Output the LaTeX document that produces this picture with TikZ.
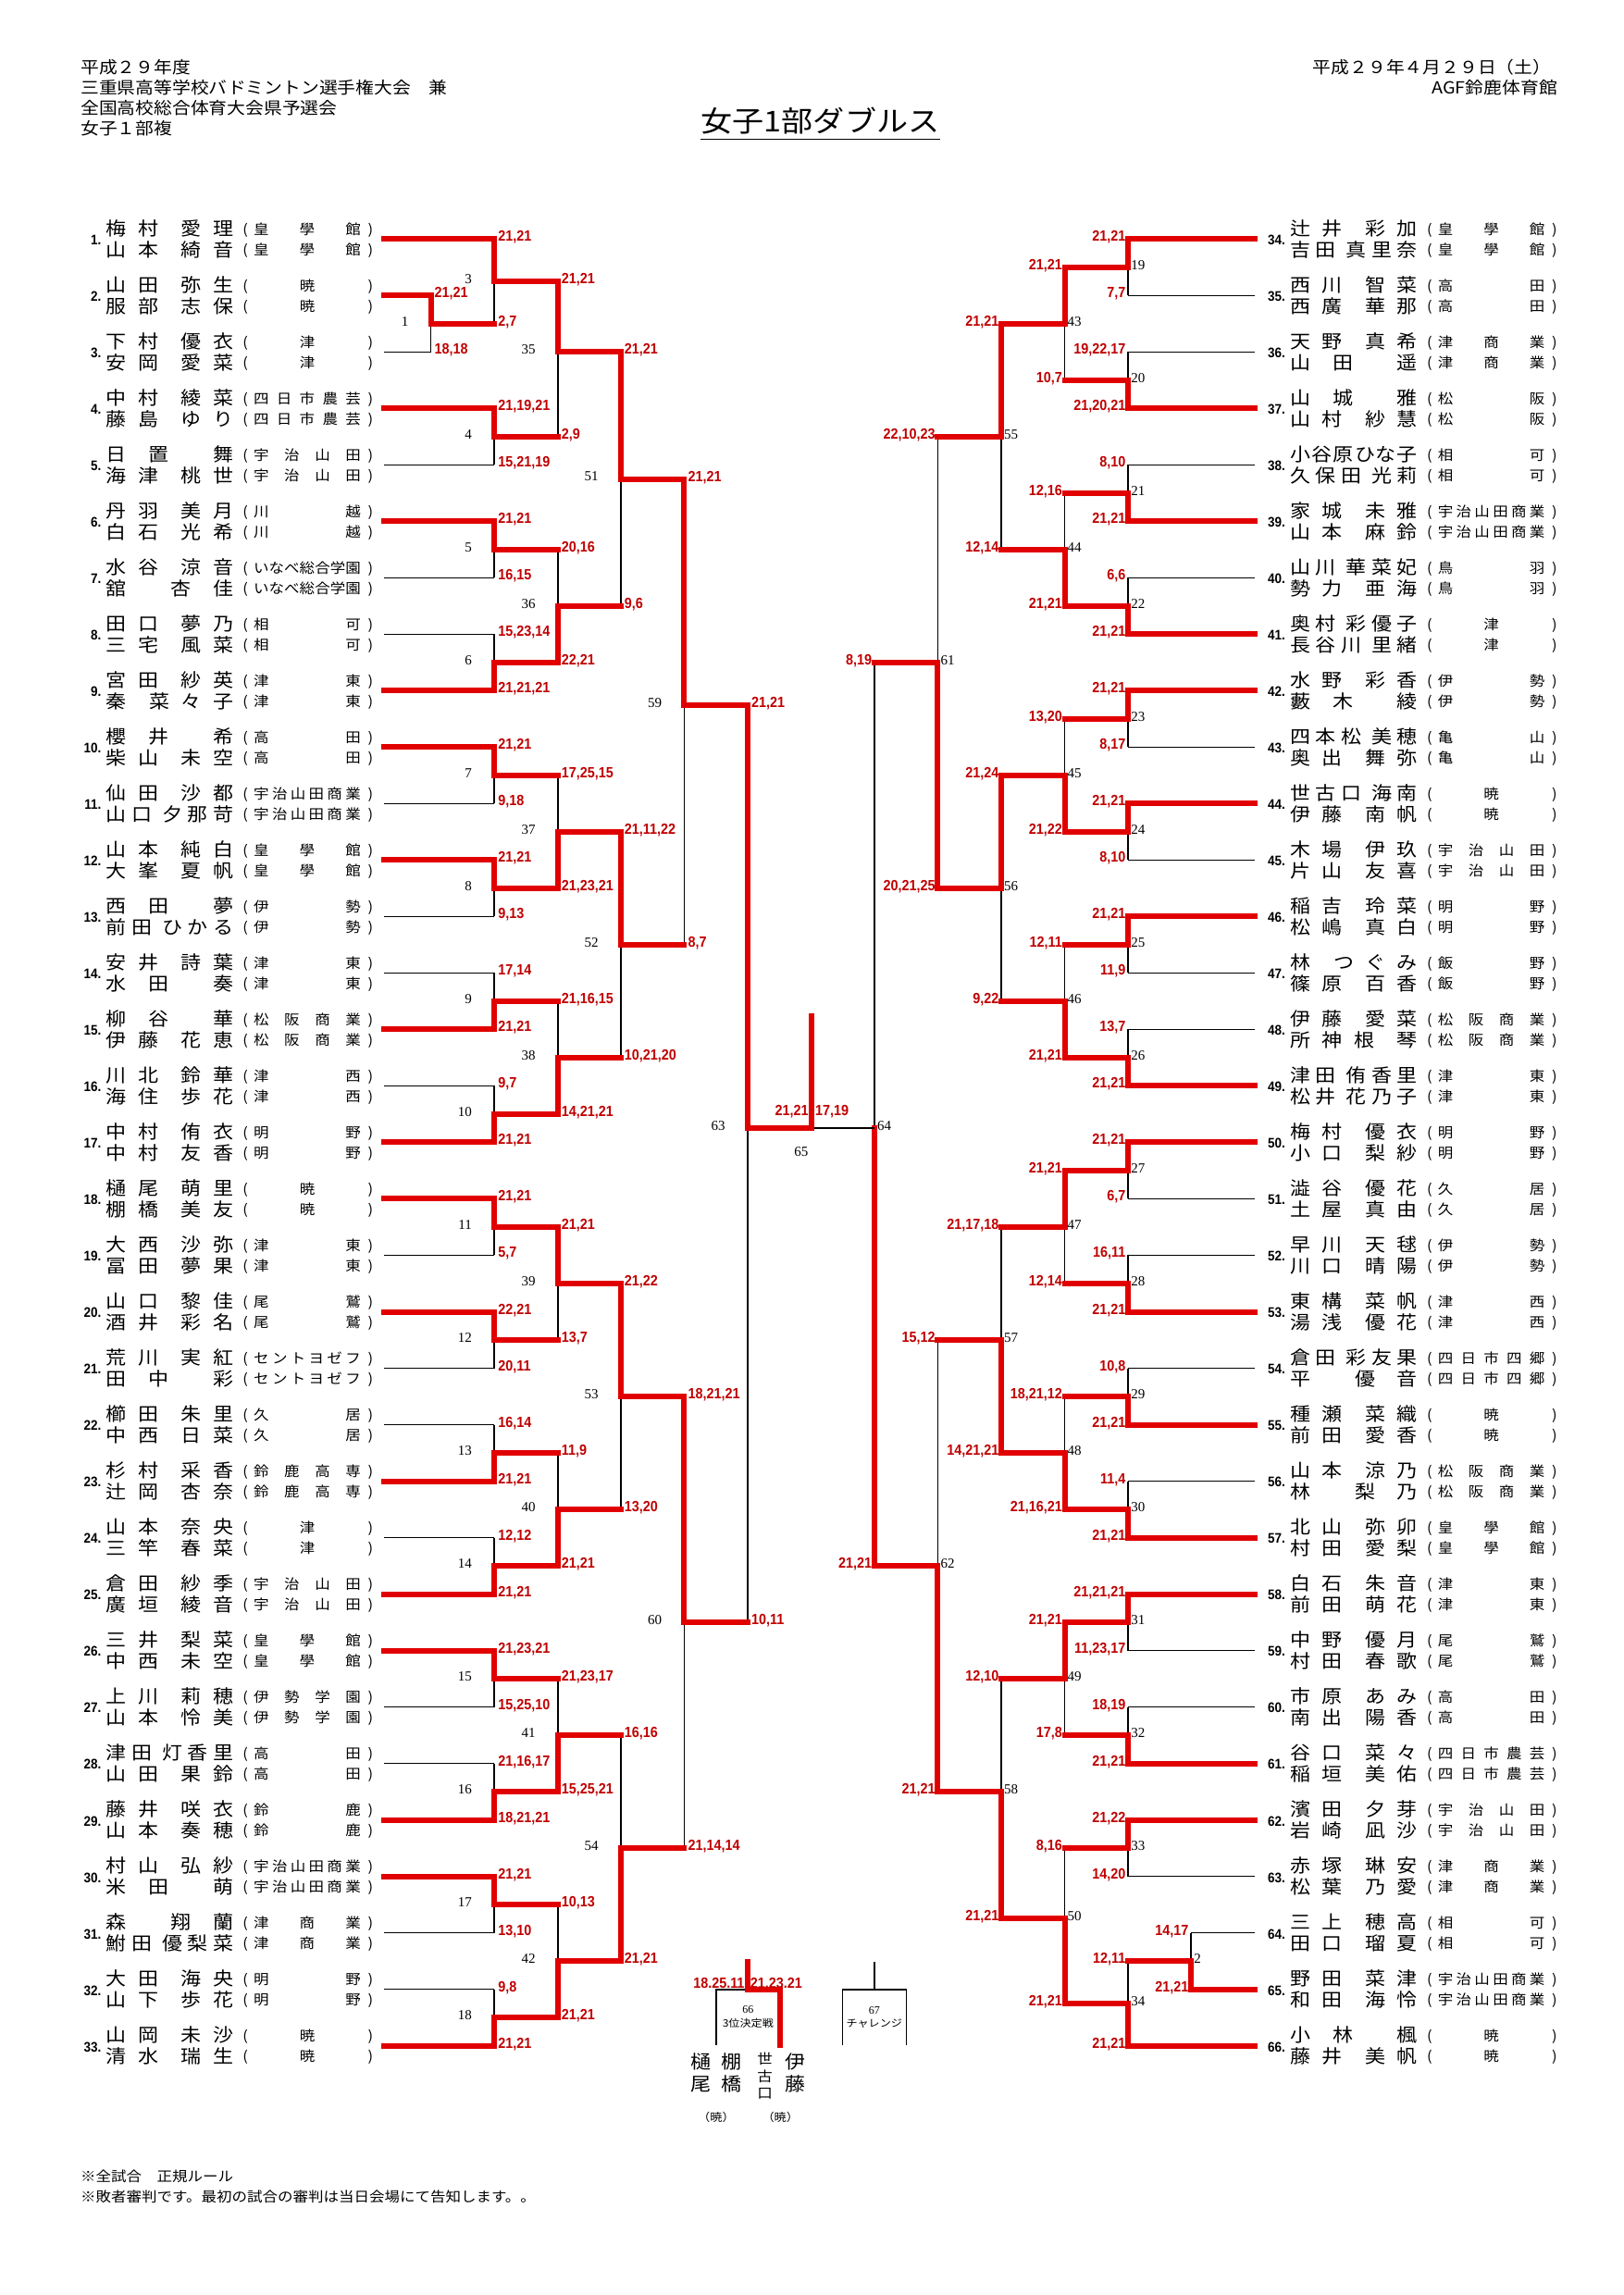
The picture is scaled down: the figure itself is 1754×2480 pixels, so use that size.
\documentclass[tikz,border=0pt]{standalone}
\usepackage{fontspec}
\usepackage{graphicx}
\newfontfamily\jp[FakeStretch=1.1]{Noto Sans CJK JP}
\newfontfamily\scfont[FakeStretch=0.9]{Liberation Sans}
\newfontfamily\mnfont{Liberation Serif}

\definecolor{linered}{RGB}{225,0,0}
\definecolor{scorered}{RGB}{192,0,0}

\newcommand\namefont{\jp\fontsize{20}{24}\selectfont}
\newcommand\schfont{\jp\fontsize{15}{18}\selectfont}
\newcommand\hdfont{\jp\fontsize{18}{22}\selectfont}
\newcommand\scorefont{\scfont\bfseries\fontsize{16}{19}\selectfont}
\newcommand\entfont{\scfont\bfseries\fontsize{15}{18}\selectfont}
\newcommand\numfont{\mnfont\fontsize{15}{18}\selectfont}

\makeatletter
\newcommand\spreadchars[1]{\let\sc@sep\relax\@tfor\sc@c:=#1\do{\sc@sep\sc@c\let\sc@sep\hfill}}
\makeatother
\newcommand\nm[2]{\makebox[137.7pt][s]{\spreadchars{#1}\hfill\hfill\spreadchars{#2}}}
\newcommand\sch[1]{\makebox[18pt]{(}\makebox[115.6pt][s]{\hskip 0pt plus 1fil\spreadchars{#1}\hskip 0pt plus 1fil}\makebox[21.1pt]{)}}
\newcommand\rowy[1]{258.3+15.2525*(#1)}

% one pair: id, shift, line end, first id of the side, names, school
\newcommand\ent[9]{%
  \coordinate (e#1) at (#3,{258.3+61.01*(#1-#4)});
  \node[enum] (num#1) at ({#2+109.5},{264.7+61.01*(#1-#4)}) {#1.};
  \node[pname] (pa#1) at ({#2+114.4},{254.2+61.01*(#1-#4)}) {\nm{#5}{#6}};
  \node[pname] (pb#1) at ({#2+114.4},{277.6+61.01*(#1-#4)}) {\nm{#7}{#8}};
  \node[pschool] (sa#1) at ({#2+256},{253.5+61.01*(#1-#4)}) {\sch{#9}};
  \node[pschool] (sb#1) at ({#2+256},{275.2+61.01*(#1-#4)}) {\sch{#9}};}
\newcommand\entL[6]{\ent{#1}{0}{414.6}{1}{#2}{#3}{#4}{#5}{#6}}
\newcommand\entR[6]{\ent{#1}{1279.6}{1355.7}{34}{#2}{#3}{#4}{#5}{#6}}

% one match: side, number, winner, loser, loser line, scores
\newcommand\bout[7]{%
  \draw[lo] (#4 -| m#2) -- (m#2);
  \draw[#5] (#4) -- (#4 -| m#2);
  \draw[wn] (#3) -- (#3 -| m#2) -- (m#2);
  \node[sc#1] (sw#2) at (#3 -| m#2) {#6};
  \node[sc#1] (sl#2) at (#4 -| m#2) {#7};
  \node[no#1] (lab#2) at (m#2) {#2};}

\begin{document}
\begin{tikzpicture}[x=1pt,y=-1pt,
  lo/.style={black,line width=1.6pt},
  wn/.style={linered,line width=6pt,line cap=rect},
  scL/.style={anchor=base west,xshift=4pt,yshift=-2.5pt,text=scorered,font=\scorefont},
  scR/.style={anchor=base east,xshift=-2.5pt,yshift=-2.5pt,text=scorered,font=\scorefont},
  noL/.style={anchor=east,xshift=-24pt,yshift=2.5pt,font=\numfont},
  noR/.style={anchor=west,xshift=3pt,yshift=2.5pt,font=\numfont},
  enum/.style={anchor=base east,font=\entfont},
  pname/.style={anchor=base west,font=\namefont},
  pschool/.style={anchor=base west,font=\schfont},
  hd/.style={anchor=base west,font=\hdfont},
  tp/.style={align=center,font=\jp\fontsize{20}{23.4}\selectfont},
  small/.style={font=\jp\fontsize{11}{13}\selectfont}]
\tikzstyle{every node}+=[inner sep=0pt]
\fill[white] (0,0) rectangle (1754,2480);
\useasboundingbox (0,0) rectangle (1754,2480);

\node[hd] (hd1) at (87,79.6) {平成２９年度};
\node[hd] (hd2) at (87,101.7) {三重県高等学校バドミントン選手権大会　兼};
\node[hd] (hd3) at (87,123.8) {全国高校総合体育大会県予選会};
\node[hd] (hd4) at (87,146) {女子１部複};
\node[hd,anchor=base east] (date) at (1676.5,79.6) {平成２９年４月２９日（土）};
\node[hd,anchor=base east] (hall) at (1683,101.7) {AGF鈴鹿体育館};
\node[anchor=base,font=\jp\fontsize{31}{36}\selectfont] (title) at (886.5,142.8) {女子1部ダブルス};
\draw[line width=1.5pt] ([yshift=-7.7pt]title.base west) -- ([yshift=-7.7pt]title.base east);

\entL{1}{梅村}{愛理}{山本}{綺音}{皇學館}
\entL{2}{山田}{弥生}{服部}{志保}{暁}
\entL{3}{下村}{優衣}{安岡}{愛菜}{津}
\entL{4}{中村}{綾菜}{藤島}{ゆり}{四日市農芸}
\entL{5}{日置}{舞}{海津}{桃世}{宇治山田}
\entL{6}{丹羽}{美月}{白石}{光希}{川越}
\entL{7}{水谷}{涼音}{舘}{杏佳}{いなべ総合学園}
\entL{8}{田口}{夢乃}{三宅}{風菜}{相可}
\entL{9}{宮田}{紗英}{秦}{菜々子}{津東}
\entL{10}{櫻井}{希}{柴山}{未空}{高田}
\entL{11}{仙田}{沙都}{山口}{夕那苛}{宇治山田商業}
\entL{12}{山本}{純白}{大峯}{夏帆}{皇學館}
\entL{13}{西田}{夢}{前田}{ひかる}{伊勢}
\entL{14}{安井}{詩葉}{水田}{奏}{津東}
\entL{15}{柳谷}{華}{伊藤}{花恵}{松阪商業}
\entL{16}{川北}{鈴華}{海住}{歩花}{津西}
\entL{17}{中村}{侑衣}{中村}{友香}{明野}
\entL{18}{樋尾}{萌里}{棚橋}{美友}{暁}
\entL{19}{大西}{沙弥}{冨田}{夢果}{津東}
\entL{20}{山口}{黎佳}{酒井}{彩名}{尾鷲}
\entL{21}{荒川}{実紅}{田中}{彩}{セントヨゼフ}
\entL{22}{櫛田}{朱里}{中西}{日菜}{久居}
\entL{23}{杉村}{采香}{辻岡}{杏奈}{鈴鹿高専}
\entL{24}{山本}{奈央}{三竿}{春菜}{津}
\entL{25}{倉田}{紗季}{廣垣}{綾音}{宇治山田}
\entL{26}{三井}{梨菜}{中西}{未空}{皇學館}
\entL{27}{上川}{莉穂}{山本}{怜美}{伊勢学園}
\entL{28}{津田}{灯香里}{山田}{果鈴}{高田}
\entL{29}{藤井}{咲衣}{山本}{奏穂}{鈴鹿}
\entL{30}{村山}{弘紗}{米田}{萌}{宇治山田商業}
\entL{31}{森}{翔蘭}{鮒田}{優梨菜}{津商業}
\entL{32}{大田}{海央}{山下}{歩花}{明野}
\entL{33}{山岡}{未沙}{清水}{瑞生}{暁}

\entR{34}{辻井}{彩加}{吉田}{真里奈}{皇學館}
\entR{35}{西川}{智菜}{西廣}{華那}{高田}
\entR{36}{天野}{真希}{山田}{遥}{津商業}
\entR{37}{山城}{雅}{山村}{紗慧}{松阪}
\entR{38}{小谷原}{ひな子}{久保田}{光莉}{相可}
\entR{39}{家城}{未雅}{山本}{麻鈴}{宇治山田商業}
\entR{40}{山川}{華菜妃}{勢力}{亜海}{鳥羽}
\entR{41}{奥村}{彩優子}{長谷川}{里緒}{津}
\entR{42}{水野}{彩香}{藪木}{綾}{伊勢}
\entR{43}{四本松}{美穂}{奥出}{舞弥}{亀山}
\entR{44}{世古口}{海南}{伊藤}{南帆}{暁}
\entR{45}{木場}{伊玖}{片山}{友喜}{宇治山田}
\entR{46}{稲吉}{玲菜}{松嶋}{真白}{明野}
\entR{47}{林}{つぐみ}{篠原}{百香}{飯野}
\entR{48}{伊藤}{愛菜}{所神根}{琴}{松阪商業}
\entR{49}{津田}{侑香里}{松井}{花乃子}{津東}
\entR{50}{梅村}{優衣}{小口}{梨紗}{明野}
\entR{51}{澁谷}{優花}{土屋}{真由}{久居}
\entR{52}{早川}{天毬}{川口}{晴陽}{伊勢}
\entR{53}{東構}{菜帆}{湯浅}{優花}{津西}
\entR{54}{倉田}{彩友果}{平}{優音}{四日市四郷}
\entR{55}{種瀬}{菜織}{前田}{愛香}{暁}
\entR{56}{山本}{涼乃}{林}{梨乃}{松阪商業}
\entR{57}{北山}{弥卯}{村田}{愛梨}{皇學館}
\entR{58}{白石}{朱音}{前田}{萌花}{津東}
\entR{59}{中野}{優月}{村田}{春歌}{尾鷲}
\entR{60}{市原}{あみ}{南出}{陽香}{高田}
\entR{61}{谷口}{菜々}{稲垣}{美佑}{四日市農芸}
\entR{62}{濱田}{夕芽}{岩崎}{凪沙}{宇治山田}
\entR{63}{赤塚}{琳安}{松葉}{乃愛}{津商業}
\entR{64}{三上}{穂高}{田口}{瑠夏}{相可}
\entR{65}{野田}{菜津}{和田}{海怜}{宇治山田商業}
\entR{66}{小林}{楓}{藤井}{美帆}{暁}

% left half
\coordinate (m1) at (465.5,{\rowy{6}});
\coordinate (m3) at (534.1,{\rowy{3}});
\coordinate (m4) at (534.1,{\rowy{14}});
\coordinate (m5) at (534.1,{\rowy{22}});
\coordinate (m6) at (534.1,{\rowy{30}});
\coordinate (m7) at (534.1,{\rowy{38}});
\coordinate (m8) at (534.1,{\rowy{46}});
\coordinate (m9) at (534.1,{\rowy{54}});
\coordinate (m10) at (534.1,{\rowy{62}});
\coordinate (m11) at (534.1,{\rowy{70}});
\coordinate (m12) at (534.1,{\rowy{78}});
\coordinate (m13) at (534.1,{\rowy{86}});
\coordinate (m14) at (534.1,{\rowy{94}});
\coordinate (m15) at (534.1,{\rowy{102}});
\coordinate (m16) at (534.1,{\rowy{110}});
\coordinate (m17) at (534.1,{\rowy{118}});
\coordinate (m18) at (534.1,{\rowy{126}});
\coordinate (m35) at (602.7,{\rowy{8}});
\coordinate (m36) at (602.7,{\rowy{26}});
\coordinate (m37) at (602.7,{\rowy{42}});
\coordinate (m38) at (602.7,{\rowy{58}});
\coordinate (m39) at (602.7,{\rowy{74}});
\coordinate (m40) at (602.7,{\rowy{90}});
\coordinate (m41) at (602.7,{\rowy{106}});
\coordinate (m42) at (602.7,{\rowy{122}});
\coordinate (m51) at (670.7,{\rowy{17}});
\coordinate (m52) at (670.7,{\rowy{50}});
\coordinate (m53) at (670.7,{\rowy{82}});
\coordinate (m54) at (670.7,{\rowy{114}});
\coordinate (m59) at (739.3,{\rowy{33}});
\coordinate (m60) at (739.3,{\rowy{98}});
\coordinate (m63) at (807.9,{\rowy{63}});
% right half
\coordinate (m2) at (1287.1,{\rowy{122}});
\coordinate (m19) at (1219.1,{\rowy{2}});
\coordinate (m20) at (1219.1,{\rowy{10}});
\coordinate (m21) at (1219.1,{\rowy{18}});
\coordinate (m22) at (1219.1,{\rowy{26}});
\coordinate (m23) at (1219.1,{\rowy{34}});
\coordinate (m24) at (1219.1,{\rowy{42}});
\coordinate (m25) at (1219.1,{\rowy{50}});
\coordinate (m26) at (1219.1,{\rowy{58}});
\coordinate (m27) at (1219.1,{\rowy{66}});
\coordinate (m28) at (1219.1,{\rowy{74}});
\coordinate (m29) at (1219.1,{\rowy{82}});
\coordinate (m30) at (1219.1,{\rowy{90}});
\coordinate (m31) at (1219.1,{\rowy{98}});
\coordinate (m32) at (1219.1,{\rowy{106}});
\coordinate (m33) at (1219.1,{\rowy{114}});
\coordinate (m34) at (1219.1,{\rowy{125}});
\coordinate (m43) at (1150.5,{\rowy{6}});
\coordinate (m44) at (1150.5,{\rowy{22}});
\coordinate (m45) at (1150.5,{\rowy{38}});
\coordinate (m46) at (1150.5,{\rowy{54}});
\coordinate (m47) at (1150.5,{\rowy{70}});
\coordinate (m48) at (1150.5,{\rowy{86}});
\coordinate (m49) at (1150.5,{\rowy{102}});
\coordinate (m50) at (1150.5,{\rowy{119}});
\coordinate (m55) at (1082,{\rowy{14}});
\coordinate (m56) at (1082,{\rowy{46}});
\coordinate (m57) at (1082,{\rowy{78}});
\coordinate (m58) at (1082,{\rowy{110}});
\coordinate (m61) at (1013.4,{\rowy{30}});
\coordinate (m62) at (1013.4,{\rowy{94}});
\coordinate (m64) at (944.8,{\rowy{63}});
\coordinate (m65) at (876.9,{\rowy{63}});
\coordinate (champ) at (876.9,1098);

\bout{L}{1}{e2}{e3}{lo}{21,21}{18,18}
\bout{L}{3}{e1}{m1}{wn}{21,21}{2,7}
\bout{L}{4}{e4}{e5}{lo}{21,19,21}{15,21,19}
\bout{L}{5}{e6}{e7}{lo}{21,21}{16,15}
\bout{L}{6}{e9}{e8}{lo}{21,21,21}{15,23,14}
\bout{L}{7}{e10}{e11}{lo}{21,21}{9,18}
\bout{L}{8}{e12}{e13}{lo}{21,21}{9,13}
\bout{L}{9}{e15}{e14}{lo}{21,21}{17,14}
\bout{L}{10}{e17}{e16}{lo}{21,21}{9,7}
\bout{L}{11}{e18}{e19}{lo}{21,21}{5,7}
\bout{L}{12}{e20}{e21}{lo}{22,21}{20,11}
\bout{L}{13}{e23}{e22}{lo}{21,21}{16,14}
\bout{L}{14}{e25}{e24}{lo}{21,21}{12,12}
\bout{L}{15}{e26}{e27}{lo}{21,23,21}{15,25,10}
\bout{L}{16}{e29}{e28}{lo}{18,21,21}{21,16,17}
\bout{L}{17}{e30}{e31}{lo}{21,21}{13,10}
\bout{L}{18}{e33}{e32}{lo}{21,21}{9,8}
\bout{L}{35}{m3}{m4}{wn}{21,21}{2,9}
\bout{L}{36}{m6}{m5}{wn}{22,21}{20,16}
\bout{L}{37}{m8}{m7}{wn}{21,23,21}{17,25,15}
\bout{L}{38}{m10}{m9}{wn}{14,21,21}{21,16,15}
\bout{L}{39}{m11}{m12}{wn}{21,21}{13,7}
\bout{L}{40}{m14}{m13}{wn}{21,21}{11,9}
\bout{L}{41}{m16}{m15}{wn}{15,25,21}{21,23,17}
\bout{L}{42}{m18}{m17}{wn}{21,21}{10,13}
\bout{L}{51}{m35}{m36}{wn}{21,21}{9,6}
\bout{L}{52}{m37}{m38}{wn}{21,11,22}{10,21,20}
\bout{L}{53}{m39}{m40}{wn}{21,22}{13,20}
\bout{L}{54}{m42}{m41}{wn}{21,21}{16,16}
\bout{L}{59}{m51}{m52}{wn}{21,21}{8,7}
\bout{L}{60}{m53}{m54}{wn}{18,21,21}{21,14,14}
\bout{L}{63}{m59}{m60}{wn}{21,21}{10,11}

\bout{R}{19}{e34}{e35}{lo}{21,21}{7,7}
\bout{R}{20}{e37}{e36}{lo}{21,20,21}{19,22,17}
\bout{R}{21}{e39}{e38}{lo}{21,21}{8,10}
\bout{R}{22}{e41}{e40}{lo}{21,21}{6,6}
\bout{R}{23}{e42}{e43}{lo}{21,21}{8,17}
\bout{R}{24}{e44}{e45}{lo}{21,21}{8,10}
\bout{R}{25}{e46}{e47}{lo}{21,21}{11,9}
\bout{R}{26}{e49}{e48}{lo}{21,21}{13,7}
\bout{R}{27}{e50}{e51}{lo}{21,21}{6,7}
\bout{R}{28}{e53}{e52}{lo}{21,21}{16,11}
\bout{R}{29}{e55}{e54}{lo}{21,21}{10,8}
\bout{R}{30}{e57}{e56}{lo}{21,21}{11,4}
\bout{R}{31}{e58}{e59}{lo}{21,21,21}{11,23,17}
\bout{R}{32}{e61}{e60}{lo}{21,21}{18,19}
\bout{R}{33}{e62}{e63}{lo}{21,22}{14,20}
\bout{R}{2}{e65}{e64}{lo}{21,21}{14,17}
\bout{R}{34}{e66}{m2}{wn}{21,21}{12,11}
\bout{R}{43}{m19}{m20}{wn}{21,21}{10,7}
\bout{R}{44}{m22}{m21}{wn}{21,21}{12,16}
\bout{R}{45}{m24}{m23}{wn}{21,22}{13,20}
\bout{R}{46}{m26}{m25}{wn}{21,21}{12,11}
\bout{R}{47}{m27}{m28}{wn}{21,21}{12,14}
\bout{R}{48}{m30}{m29}{wn}{21,16,21}{18,21,12}
\bout{R}{49}{m31}{m32}{wn}{21,21}{17,8}
\bout{R}{50}{m34}{m33}{wn}{21,21}{8,16}
\bout{R}{55}{m43}{m44}{wn}{21,21}{12,14}
\bout{R}{56}{m45}{m46}{wn}{21,24}{9,22}
\bout{R}{57}{m48}{m47}{wn}{14,21,21}{21,17,18}
\bout{R}{58}{m50}{m49}{wn}{21,21}{12,10}
\bout{R}{61}{m56}{m55}{wn}{20,21,25}{22,10,23}
\bout{R}{62}{m58}{m57}{wn}{21,21}{15,12}
\bout{R}{64}{m62}{m61}{wn}{21,21}{8,19}

% final
\draw[lo] (m64) -- (m65);
\draw[wn] (m63) -- (m65) -- (champ);
\node[anchor=base east,text=scorered,font=\scorefont] (sw65) at ([xshift=-3pt,yshift=14pt]m65) {21,21};
\node[anchor=base west,text=scorered,font=\scorefont] (sl65) at ([xshift=4pt,yshift=14pt]m65) {17,19};
\node[font=\numfont] (lab65) at ([xshift=-11pt,yshift=-25pt]m65) {65};

% third place and challenge
\coordinate (q66) at (807.7,2150);
\coordinate (q66t) at (807.7,2120);
\coordinate (q66l) at (774,2210);
\coordinate (q66r) at (843.3,2210);
\draw[lo] (q66l) |- (q66);
\draw[wn] (q66t) -- (q66) -| (q66r);
\node[anchor=base east,text=scorered,font=\scorefont] (sl66) at ([xshift=-3pt,yshift=1.7pt]q66) {18.25.11};
\node[anchor=base west,text=scorered,font=\scorefont] (sw66) at ([xshift=3pt,yshift=1.7pt]q66) {21.23.21};
\node[font=\mnfont\fontsize{12}{14}\selectfont] (lab66) at (808.3,2171.7) {66};
\node[small] (ttl66) at (808.3,2186.7) {3位決定戦};
\node[tp] (t1) at (757.3,2240) {樋\\尾};
\node[tp] (t2) at (790,2240) {棚\\橋};
\node[align=center,font=\jp\fontsize{15}{18.3}\selectfont] (t3) at (826.7,2243.3) {世\\古\\口};
\node[tp] (t4) at (859.3,2240) {伊\\藤};
\node[font=\jp\fontsize{12}{14}\selectfont] (k1) at (774,2288.3) {（暁）};
\node[font=\jp\fontsize{12}{14}\selectfont] (k2) at (843.3,2288.3) {（暁）};

\coordinate (q67) at (944.8,2150);
\coordinate (q67t) at (944.8,2120);
\coordinate (q67l) at (910.5,2210);
\coordinate (q67r) at (979.3,2210);
\draw[lo] (q67t) -- (q67);
\draw[lo] (q67l) |- (q67) -| (q67r);
\node[font=\mnfont\fontsize{12}{14}\selectfont] (lab67) at (944.8,2172.7) {67};
\node[small] (ttl67) at (944.8,2186.7) {チャレンジ};

\node[anchor=base west,font=\jp\fontsize{15}{18}\selectfont] (ft1) at (87,2357.7) {※全試合　正規ルール};
\node[anchor=base west,font=\jp\fontsize{15}{18}\selectfont] (ft2) at (87,2379.7) {※敗者審判です。最初の試合の審判は当日会場にて告知します。。};
\end{tikzpicture}
\end{document}
